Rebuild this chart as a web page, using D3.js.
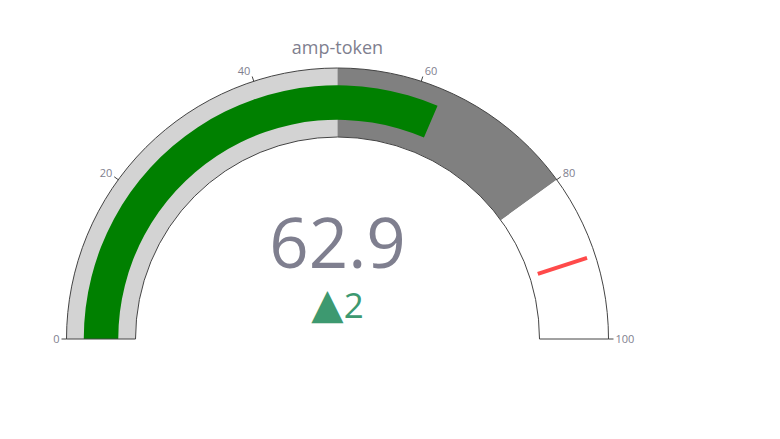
<!DOCTYPE html>
<html><head><meta charset="utf-8">
<script src="https://cdn.jsdelivr.net/npm/d3@7"></script>
<style>body{margin:0;background:#fff}svg{display:block}</style>
</head><body><svg id="c" width="780" height="439"></svg>
<script>
const title = "amp-token";
const gaugeRange = [0, 100];
const tickValues = [0, 20, 40, 60, 80, 100];
const stepRanges = [[0, 50], [50, 80], [80, 100]];
const stepColors = ["#d3d3d3", "#808080", "#ffffff"];
const value = 62.9;
const delta = 2;
const threshold = 90;

const svg = d3.select("#c");
const cx = 337.5, cy = 339, R = 271, r0 = 202;
const ang = d3.scaleLinear().domain(gaugeRange).range([-Math.PI/2, Math.PI/2]);
const g = svg.append("g").attr("transform", `translate(${cx},${cy})`);
const arc = d3.arc();

// steps
g.selectAll("path.step").data(stepRanges).join("path").attr("class","step")
  .attr("d", d => arc({innerRadius:r0, outerRadius:R, startAngle:ang(d[0]), endAngle:ang(d[1])}))
  .attr("fill", (d,i) => stepColors[i]);

// bar
const mid = (R + r0) / 2, bw = (R - r0) * 0.5;
g.append("path")
  .attr("d", arc({innerRadius:mid - bw/2, outerRadius:mid + bw/2, startAngle:ang(gaugeRange[0]), endAngle:ang(value)}))
  .attr("fill", "#008000");

// border
g.append("path")
  .attr("d", arc({innerRadius:r0, outerRadius:R, startAngle:ang(gaugeRange[0]), endAngle:ang(gaugeRange[1])}))
  .attr("fill", "none").attr("stroke", "#444").attr("stroke-width", 1);

// threshold
const tt = (R - r0) * 0.75, ta = ang(threshold);
g.append("line")
  .attr("x1", Math.sin(ta) * (mid - tt/2)).attr("y1", -Math.cos(ta) * (mid - tt/2))
  .attr("x2", Math.sin(ta) * (mid + tt/2)).attr("y2", -Math.cos(ta) * (mid + tt/2))
  .attr("stroke", "#ff4a4a").attr("stroke-width", 4);

// ticks
const tl = 5;
const tk = g.selectAll("g.tick").data(tickValues).join("g").attr("class","tick");
tk.append("line")
  .attr("x1", d => Math.sin(ang(d)) * R).attr("y1", d => -Math.cos(ang(d)) * R)
  .attr("x2", d => Math.sin(ang(d)) * (R + tl)).attr("y2", d => -Math.cos(ang(d)) * (R + tl))
  .attr("stroke", "#444").attr("stroke-width", 1);
tk.append("text")
  .attr("x", d => { const s = Math.sin(ang(d)); return s * (R + tl) + (s < 0 ? -2 : 2); })
  .attr("y", d => -Math.cos(ang(d)) * (R + tl) - 6 * Math.cos(ang(d)))
  .attr("text-anchor", d => Math.sin(ang(d)) < 0 ? "end" : "start")
  .attr("dy", "0.35em")
  .attr("font-family", "'Open Sans', sans-serif").attr("font-size", 11).attr("fill", "#7f7f8f")
  .text(d => d);

// title
svg.append("text").attr("x", cx).attr("y", 54).attr("text-anchor","middle")
  .attr("font-family", "'Open Sans', sans-serif").attr("font-size", 18).attr("fill", "#7f7f8f")
  .text(title);

// number
svg.append("text").attr("x", cx).attr("y", 268).attr("text-anchor","middle")
  .attr("font-family", "'Open Sans', sans-serif").attr("font-size", 69).attr("fill", "#7f7f8f")
  .text(d3.format(".1f")(value));

// delta
const dt = svg.append("text").attr("x", cx).attr("y", 318).attr("text-anchor","middle")
  .attr("font-family", "'Open Sans', sans-serif").attr("font-size", 35).attr("fill", "#3d9970");
dt.append("tspan").attr("font-family", "'DejaVu Sans', sans-serif").attr("font-size", 42)
  .text(delta >= 0 ? "▲" : "▼");
dt.append("tspan").text(Math.abs(delta));
</script></body></html>
